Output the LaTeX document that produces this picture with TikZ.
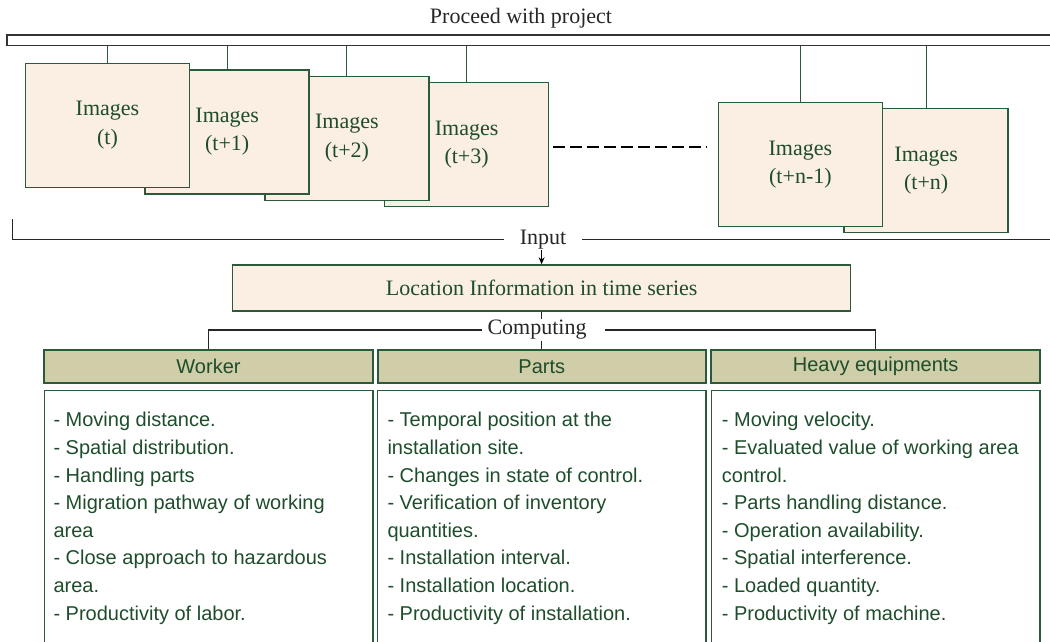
\documentclass[tikz,border=0pt]{standalone}
\usepackage{fontspec}
\setmainfont{Liberation Serif}
\setsansfont{Liberation Sans}
\usetikzlibrary{arrows.meta}
\definecolor{leaf}{HTML}{1E4D2B}
\definecolor{rim}{HTML}{2A5A3A}
\definecolor{paper}{HTML}{FBEEE2}
\definecolor{olive}{HTML}{D0CDA9}

\begin{document}
\begin{tikzpicture}%
        [x=1pt, y=-1pt,
        frame/.style={draw=rim, line width=1.5pt, fill=paper, minimum width=164pt, minimum height=124pt, inner sep=0pt, align=center, text=leaf, font=\fontsize{22}{28.5}\selectfont},
        link/.style={draw=rim, line width=1pt},
        rule/.style={draw=black!85, line width=1.5pt},
        word/.style={text=black!85, fill=white, inner ysep=1pt, font=\fontsize{22}{26}\selectfont},
        head/.style={draw=rim, line width=2pt, fill=olive, minimum width=328.5pt, minimum height=33pt, text=leaf, font=\sffamily\fontsize{20}{24}\selectfont},
        sheet/.style={draw=rim, line width=1.5pt, minimum width=328.5pt, minimum height=270pt, anchor=north},
        item/.style={anchor=north west, inner sep=0pt, align=left, text=leaf, font=\sffamily\fontsize{20}{27.6}\selectfont}]
    %
    \useasboundingbox (0,0) rectangle (1050,641);
    %
    %% The time line of the project
    \node[draw=black!80, line width=1.5pt, minimum width=1063pt, minimum height=10.7pt, inner sep=0pt] (bar) at (538.4,40.3) {};
    \node[text=black!85, font=\fontsize{22}{26}\selectfont] (proceed) at (521,18) {Proceed with project};
    %%
    %% Coordinate of the image frames:
    %%
    \coordinate (p0) at (107.5,125.3);
    \coordinate (p1) at (227.2,131.8);
    \coordinate (p2) at (346.9,138.3);
    \coordinate (p3) at (466.6,144.7);
    \coordinate (pn1) at (800.4,164.7);
    \coordinate (pn) at (926.2,170.7);
    %%
    %% Drawing the image frames
    %%
    \node[frame] (tn) at (pn) {Images\\(t+n)};
    \node[frame] (tn1) at (pn1) {Images\\(t+n-1)};
    \node[frame] (t3) at (p3) {Images\\(t+3)};
    \node[frame] (t2) at (p2) {Images\\(t+2)};
    \node[frame] (t1) at (p1) {Images\\(t+1)};
    \node[frame] (t0) at (p0) {Images\\(t)};
    %%
    %% Drawing the links to the time line
    %%
    \draw[link] (t0.north) -- (t0.north |- bar.south);
    \draw[link] (t1.north) -- (t1.north |- bar.south);
    \draw[link] (t2.north) -- (t2.north |- bar.south);
    \draw[link] (t3.north) -- (t3.north |- bar.south);
    \draw[link] (tn1.north) -- (tn1.north |- bar.south);
    \draw[link] (tn.north) -- (tn.north |- bar.south);
    %%
    \coordinate (gapL) at (552.8,147.3);
    \coordinate (gapR) at (705.9,147.3);
    \draw[black, line width=2pt, dash pattern=on 12pt off 5pt] (gapL) -- (gapR);
    %%
    %% Input
    %%
    \node[word, inner xsep=16pt] (inp) at (543,239.3) {Input};
    \coordinate (inTop) at (12.7,219.3);
    \coordinate (inEnd) at (1070,239.3);
    \draw[rule] (inTop) |- (inp.west);
    \draw[rule] (inp.east) -- (inEnd);
    %%
    \node[draw=rim, line width=1.5pt, fill=paper, minimum width=618pt, minimum height=46pt, text=leaf, font=\fontsize{22}{26}\selectfont] (loc) at (541.6,288) {Location Information in time series};
    \draw[black, line width=1.2pt, -{Stealth[length=7pt,width=6pt]}] (inp.south -| loc.north) -- (loc.north);
    %%
    %% Computing
    %%
    \node[head] (wk) at (208.5,366.7) {Worker};
    \node[head] (pt) at (541.8,366.7) {Parts};
    \node[head] (hv) at (875.7,366.7) {Heavy equipments};
    \draw[rule] (loc.south) -- (loc.south |- pt.north);
    \node[word, inner xsep=5pt] (cmp) at (537,330) {Computing};
    \coordinate (cmpR) at (604.5,330);
    \draw[rule] (cmp.west) -| (wk.north);
    \draw[rule] (cmpR) -| (hv.north);
    %%
    %% Drawing the lists
    %%
    \node[sheet] (wkList) at (208.5,389.5) {};
    \node[sheet] (ptList) at (541.8,389.5) {};
    \node[sheet] (hvList) at (875.7,389.5) {};
    \node[item] (wkItems) at (53.3,407.4) {\strut- Moving distance.\\- Spatial distribution.\\- Handling parts\\- Migration pathway of working\\area\\- Close approach to hazardous\\area.\\- Productivity of labor.};
    \node[item] (ptItems) at (387.3,407.4) {\strut- Temporal position at the\\installation site.\\- Changes in state of control.\\- Verification of inventory\\quantities.\\- Installation interval.\\- Installation location.\\- Productivity of installation.};
    \node[item] (hvItems) at (721.7,407.4) {\strut- Moving velocity.\\- Evaluated value of working area\\control.\\- Parts handling distance.\\- Operation availability.\\- Spatial interference.\\- Loaded quantity.\\- Productivity of machine.};
    %%
\end{tikzpicture}
\end{document}
